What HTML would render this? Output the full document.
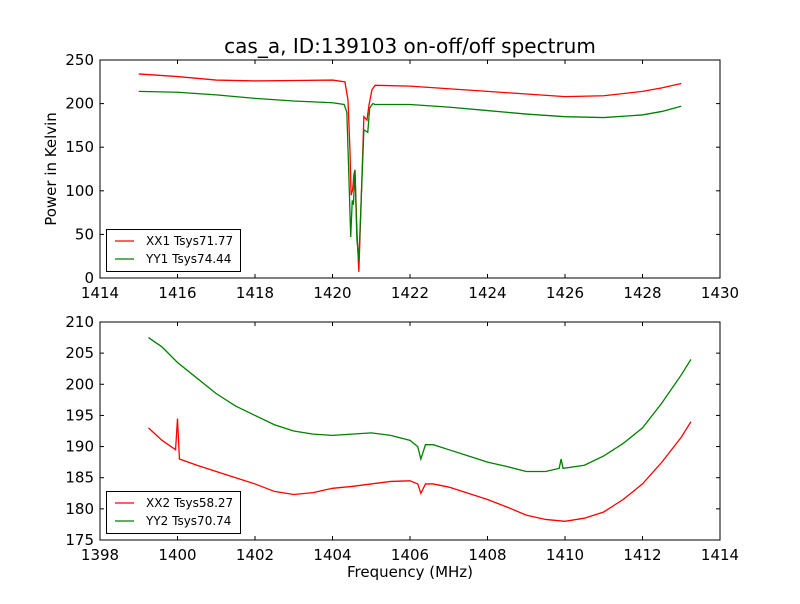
<!DOCTYPE html>
<html><head><meta charset="utf-8"><style>
body{margin:0;background:#fff;font-family:"DejaVu Sans","Liberation Sans",sans-serif}
svg text{font-family:"DejaVu Sans","Liberation Sans",sans-serif}
</style></head><body>
<svg id="c" width="800" height="600" xmlns="http://www.w3.org/2000/svg"></svg>
<script>
const topXX1x=[1415,1416,1417,1418,1419,1420,1420.32,1420.40,1420.45,1420.48,1420.52,1420.55,1420.58,1420.63,1420.68,1420.74,1420.81,1420.89,1420.94,1421.02,1421.1,1422,1423,1424,1425,1426,1427,1428,1428.5,1429];
const topXX1y=[234,231,227,226,226.5,227,225,204,147,95,101,118,124,55,7,89,185,181,198,216,221,220,217,214,211,208,209,214,218,223];
const topYY1x=[1415,1416,1417,1418,1419,1420,1420.3,1420.37,1420.42,1420.47,1420.51,1420.54,1420.58,1420.63,1420.68,1420.74,1420.81,1420.91,1420.96,1421.04,1421.1,1422,1423,1424,1425,1426,1427,1428,1428.5,1429];
const topYY1y=[214,213,210,206,203,201,199,190,120,47,89,84,124,44,21,89,170,167,195,200,199,199,196,192,188,185,184,187,191,197];
const botXX2x=[1399.25,1399.6,1399.95,1400,1400.05,1400.5,1401,1401.5,1402,1402.5,1403,1403.5,1404,1404.5,1405,1405.5,1406,1406.2,1406.28,1406.4,1406.6,1407,1407.5,1408,1408.5,1409,1409.5,1410,1410.5,1411,1411.5,1412,1412.5,1413,1413.25];
const botXX2y=[193,191,189.5,194.5,188,187,186,185,184,182.8,182.3,182.6,183.3,183.6,184,184.4,184.5,184,182.5,184,184,183.5,182.5,181.5,180.3,179,178.3,178,178.5,179.5,181.5,184,187.5,191.5,194];
const botYY2x=[1399.25,1399.6,1400,1400.5,1401,1401.5,1402,1402.5,1403,1403.5,1404,1404.5,1405,1405.5,1406,1406.2,1406.28,1406.4,1406.6,1407,1407.5,1408,1408.5,1409,1409.5,1409.85,1409.9,1409.95,1410.5,1411,1411.5,1412,1412.5,1413,1413.25];
const botYY2y=[207.5,206,203.5,201,198.5,196.5,195,193.5,192.5,192,191.8,192,192.2,191.8,191,190,188,190.3,190.3,189.5,188.5,187.5,186.8,186,186,186.5,188,186.5,187,188.5,190.5,193,197,201.5,204];
const topXTicks=[1414,1416,1418,1420,1422,1424,1426,1428,1430];
const topYTicks=[0,50,100,150,200,250];
const botXTicks=[1398,1400,1402,1404,1406,1408,1410,1412,1414];
const botYTicks=[175,180,185,190,195,200,205,210];

const S="http://www.w3.org/2000/svg",svg=document.getElementById('c');
function el(t,a,p){const e=document.createElementNS(S,t);for(const k in a)e.setAttribute(k,a[k]);(p||svg).appendChild(e);return e;}
function txt(x,y,s,size,anchor,p){const t=el('text',{x:x,y:y,'font-size':size,'text-anchor':anchor||'middle',fill:'#000'},p);t.textContent=s;return t;}
function panel(name,L,T,W,H,xmin,xmax,ymin,ymax,xt,yt,series,legend){
  const g=el('g',{});
  
  
  const sx=v=>L+(v-xmin)/(xmax-xmin)*W, sy=v=>T+H-(v-ymin)/(ymax-ymin)*H;
  series.forEach(s=>{
    const d=s.x.map((v,i)=>(i?'L':'M')+sx(v).toFixed(2)+','+sy(s.y[i]).toFixed(2)).join('');
    const p=el('path',{d:d,fill:'none',stroke:s.c,'stroke-width':1.3},g);
    
    
  });
  const f=el('rect',{x:L,y:T,width:W,height:H,fill:'none',stroke:'#000','stroke-width':1},g);
  
  
  xt.forEach(v=>{const x=sx(v);el('line',{x1:x,x2:x,y1:T+H,y2:T+H-4,stroke:'#000'},g);el('line',{x1:x,x2:x,y1:T,y2:T+4,stroke:'#000'},g);
    const t=txt(x,T+H+20,String(v),15,'middle',g);});
  yt.forEach(v=>{const y=sy(v);el('line',{x1:L,x2:L+4,y1:y,y2:y,stroke:'#000'},g);el('line',{x1:L+W,x2:L+W-4,y1:y,y2:y,stroke:'#000'},g);
    const t=txt(L-6,y+5,String(v),15,'end',g);});
  const lg=el('g',{},g);
  
  
  el('rect',{x:L+6.5,y:T+H-48.5,width:134,height:42,fill:'#fff',stroke:'#000'},lg);
  legend.forEach((l,i)=>{const y=T+H-37+i*18;el('line',{x1:L+15,x2:L+34,y1:y,y2:y,stroke:l.c,'stroke-width':1.3},lg);
    const t=txt(L+46,y+4,l.t,12,'start',lg);});
}
panel('top-panel',100,60,620,218,1414,1430,0,250,topXTicks,topYTicks,
 [{x:topXX1x,y:topXX1y,c:'#ff0000',n:'xx1-line'},{x:topYY1x,y:topYY1y,c:'#008000',n:'yy1-line'}],
 [{c:'#ff0000',t:'XX1 Tsys71.77'},{c:'#008000',t:'YY1 Tsys74.44'}]);
panel('bottom-panel',100,322,620,218,1398,1414,175,210,botXTicks,botYTicks,
 [{x:botXX2x,y:botXX2y,c:'#ff0000',n:'xx2-line'},{x:botYY2x,y:botYY2y,c:'#008000',n:'yy2-line'}],
 [{c:'#ff0000',t:'XX2 Tsys58.27'},{c:'#008000',t:'YY2 Tsys70.74'}]);
let t=txt(410,53,'cas_a, ID:139103 on-off/off spectrum',20);

t=txt(0,0,'Power in Kelvin',15);t.setAttribute('transform','translate(56,169) rotate(-90)');

t=txt(410,577,'Frequency (MHz)',15);

</script>
</body></html>
